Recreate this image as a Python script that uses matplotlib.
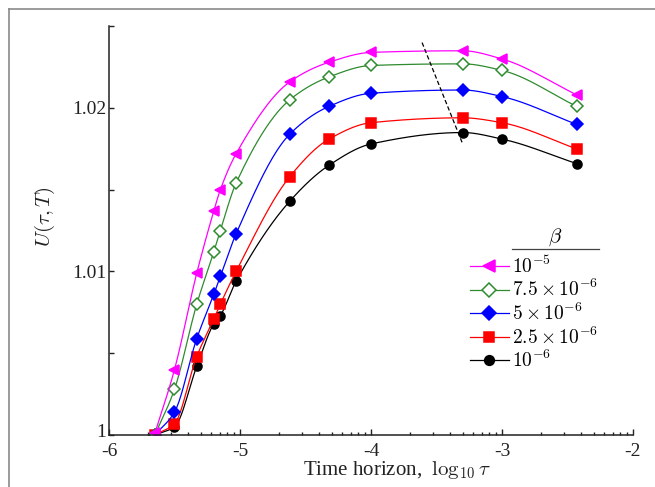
import numpy as np
import matplotlib
matplotlib.use("Agg")
import matplotlib.pyplot as plt
import matplotlib.transforms as mtransforms
from matplotlib.lines import Line2D

plt.rcParams['font.family'] = ['Liberation Serif', 'DejaVu Serif']
plt.rcParams['mathtext.fontset'] = 'cm'
plt.rcParams['axes.unicode_minus'] = False

# log10 of time horizon
log_tau = [-5.65, -5.50, -5.33, -5.20, -5.15, -5.03, -4.62, -4.32, -4.00, -3.30, -3.00, -2.43]

u_b1e5 = [1.0001, 1.0040, 1.0099, 1.0137, 1.0150, 1.0172, 1.0216, 1.0228, 1.0234, 1.0235, 1.0230, 1.0208]
u_b75e6 = [1.0000, 1.0028, 1.0080, 1.0112, 1.0125, 1.0154, 1.0205, 1.0219, 1.0226, 1.0227, 1.0223, 1.0201]
u_b5e6 = [1.0000, 1.0014, 1.0059, 1.0086, 1.0097, 1.0123, 1.0184, 1.0201, 1.0209, 1.0211, 1.0207, 1.0190]
u_b25e6 = [1.0000, 1.0007, 1.0048, 1.0071, 1.0080, 1.0100, 1.0158, 1.0181, 1.0191, 1.0194, 1.0191, 1.0175]
u_b1e6 = [1.0000, 1.0005, 1.0042, 1.0068, 1.0073, 1.0094, 1.0143, 1.0165, 1.0178, 1.0185, 1.0181, 1.0166]

beta_labels = [r'$10^{-5}$', r'$7.5\times10^{-6}$', r'$5\times10^{-6}$',
               r'$2.5\times10^{-6}$', r'$10^{-6}$']

# locus of the maxima
peak_x = [-3.61, -3.305]
peak_y = [1.0240, 1.0179]

xticks = [-6, -5, -4, -3, -2]
yticks = [1.0, 1.01, 1.02]
ytick_labels = ['1', '1.01', '1.02']


def pchip(x, y, n=400):
    # monotone cubic through the points, only for drawing the line
    x = np.asarray(x, float)
    y = np.asarray(y, float)
    h = np.diff(x)
    d = np.diff(y) / h
    m = np.zeros_like(y)
    for k in range(1, len(x) - 1):
        if d[k - 1] * d[k] > 0:
            w1 = 2 * h[k] + h[k - 1]
            w2 = h[k] + 2 * h[k - 1]
            m[k] = (w1 + w2) / (w1 / d[k - 1] + w2 / d[k])
    m[0] = d[0]
    m[-1] = d[-1]
    xs = np.linspace(x[0], x[-1], n)
    idx = np.clip(np.searchsorted(x, xs) - 1, 0, len(h) - 1)
    t = (xs - x[idx]) / h[idx]
    h00 = 2 * t**3 - 3 * t**2 + 1
    h10 = t**3 - 2 * t**2 + t
    h01 = -2 * t**3 + 3 * t**2
    h11 = t**3 - t**2
    ys = h00 * y[idx] + h10 * h[idx] * m[idx] + h01 * y[idx + 1] + h11 * h[idx] * m[idx + 1]
    return xs, ys


fig = plt.figure(figsize=(6.55, 4.87), dpi=100)
ax = fig.add_axes([0.1664, 0.1068, 0.80, 0.8393])

series = [
    (u_b1e5, '#ff00ff', '<', '#ff00ff', 7.5),
    (u_b75e6, '#2e8b2e', 'D', 'white', 6.5),
    (u_b5e6, '#0000ff', 'D', '#0000ff', 6.5),
    (u_b25e6, '#ff0000', 's', '#ff0000', 6.5),
    (u_b1e6, 'black', 'o', 'black', 6.5),
]

handles = []
for (vals, col, mk, fc, ms), lab in zip(series[::-1], beta_labels[::-1]):
    xs, ys = pchip(log_tau, vals)
    ax.plot(xs, ys, color=col, lw=0.9)
    ax.plot(log_tau, vals, ls='none', marker=mk, ms=ms, mfc=fc, mec=col, mew=1.1)
for (vals, col, mk, fc, ms), lab in zip(series, beta_labels):
    handles.append(Line2D([], [], color=col, lw=0.9, marker=mk, ms=ms + 0.5,
                          mfc=fc, mec=col, mew=1.1, label=lab))

ax.plot(peak_x, peak_y, color='black', ls=(0, (3.5, 2)), lw=0.9)

ax.set_xlim(-6, -2)
ax.set_ylim(1.0, 1.025)
ax.spines['top'].set_visible(False)
ax.spines['right'].set_visible(False)
for s in ['left', 'bottom']:
    ax.spines[s].set_linewidth(1.1)
    ax.spines[s].set_color('#222222')

ax.set_xticks(xticks)
ax.set_xticklabels([str(v) for v in xticks])
minor_x = [n + np.log10(k) for n in range(-6, -2) for k in range(2, 10)]
ax.set_xticks(minor_x, minor=True)
ax.set_yticks(yticks)
ax.set_yticklabels(ytick_labels)
ax.set_yticks([1.005, 1.015, 1.025], minor=True)
ax.tick_params(axis='both', which='both', direction='in', labelsize=14, colors='#222222')
ax.tick_params(axis='x', which='major', length=4, width=1, pad=6)
ax.tick_params(axis='x', which='minor', length=2.5, width=1)
ax.tick_params(axis='y', which='both', length=3.5, width=1, pad=2)

# lift the bottom "1" a little so it clears the "-6" below it
lbl = ax.get_yticklabels()[0]
lbl.set_transform(lbl.get_transform() + mtransforms.ScaledTranslation(0, 3 / 72, fig.dpi_scale_trans))

ax.set_xlabel(r'Time horizon,  $\log_{10}\tau$', fontsize=15, color='#222222')
ax.xaxis.set_label_coords(0.55, -0.058)
ax.set_ylabel(r'$U(\tau, T)$', fontsize=15, color='#222222')
ax.yaxis.set_label_coords(-0.10, 0.535)

leg = ax.legend(handles=handles, loc='upper left', bbox_to_anchor=(0.674, 0.458),
                frameon=False, fontsize=14, handlelength=2.0, handletextpad=0.15,
                labelspacing=0.12, borderaxespad=0)

# legend header with rule underneath
ax.text(0.852, 0.458, r'$\beta$', transform=ax.transAxes, fontsize=15,
        ha='center', va='bottom')
ax.plot([0.77, 0.935], [0.455, 0.455], transform=ax.transAxes, color='#444444',
        lw=0.9, clip_on=False)

# page frame
fx = 8.5 / 655
fy = 1 - 8.5 / 487
fig.add_artist(Line2D([fx, fx], [0, fy], transform=fig.transFigure, color='#8a8a8a', lw=1.2))
fig.add_artist(Line2D([fx, 1], [fy, fy], transform=fig.transFigure, color='#8a8a8a', lw=1.2))

fig.savefig('out.png', dpi=100)
